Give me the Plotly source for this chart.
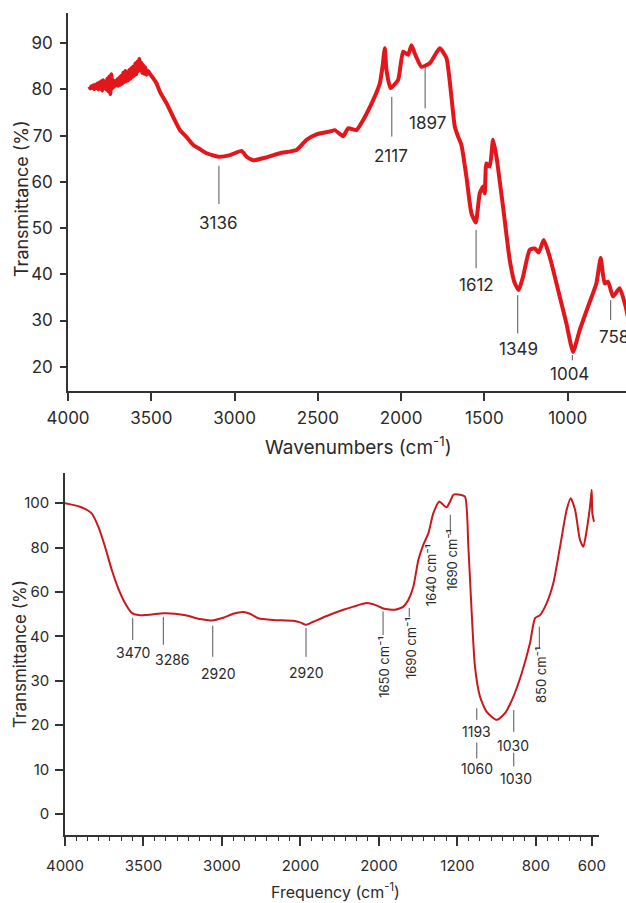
import plotly.graph_objects as go

FONT = "Inter, 'Open Sans', sans-serif"
INK = "#2a2a2a"
LEAD = "#555555"

# ---------------- top spectrum ----------------
top_wavenumber = [3872, 3866, 3860, 3854, 3848, 3842, 3836, 3830, 3824, 3818, 3812, 3806,
                  3800, 3794, 3788, 3782, 3776, 3770, 3764, 3758, 3752, 3746, 3740, 3734,
                  3728, 3722, 3716, 3710, 3704, 3698, 3692, 3686, 3680, 3674, 3668, 3662,
                  3656, 3650, 3644, 3638, 3632, 3626, 3620, 3614, 3608, 3602, 3596, 3590,
                  3584, 3578, 3572, 3566, 3560, 3554, 3548, 3542, 3536, 3528, 3518, 3505,
                  3488, 3468, 3448, 3408, 3368, 3328, 3288, 3248, 3208, 3168, 3098, 3028,
                  2958, 2928, 2888, 2808, 2728, 2628,
                  2568, 2508, 2428, 2398, 2348, 2318, 2268, 2228, 2168, 2128, 2112, 2098,
                  2088, 2064, 2018, 1988, 1958, 1938, 1918, 1878, 1828, 1768, 1728, 1698,
                  1678, 1658, 1638, 1608, 1578, 1552, 1528, 1508, 1498, 1488, 1468, 1448,
                  1428, 1388, 1348, 1318, 1294, 1268, 1228, 1198, 1174, 1144, 1108, 1048,
                  1008, 968, 928, 878, 828, 802, 778, 758, 728, 688, 652, 640]
top_transmittance = [80.6, 80.2, 80.7, 80.3, 80.9, 80.1, 81.0, 80.3, 81.3, 80.0, 81.5, 80.2,
                     81.8, 79.8, 82.0, 80.4, 81.6, 80.0, 82.3, 79.6, 82.8, 79.0, 83.3, 80.2,
                     82.0, 80.6, 81.8, 80.9, 82.2, 80.8, 82.6, 81.0, 83.0, 81.3, 83.6, 81.6,
                     84.0, 81.8, 83.2, 82.0, 84.2, 82.3, 84.6, 82.7, 85.0, 83.0, 85.6, 83.3,
                     86.0, 84.0, 86.6, 84.2, 85.8, 83.6, 85.3, 83.4, 84.8, 83.2, 84.0, 83.2,
                     82.4, 81.3, 79.5, 77.0, 74.0, 71.2, 69.7, 68.0, 67.1, 66.2, 65.45, 65.8,
                     66.7, 65.45, 64.7, 65.3, 66.2, 66.9,
                     69.1, 70.3, 70.9, 71.2, 69.9, 71.6, 71.2, 73.4, 77.7, 81.3, 84.9, 88.9,
                     84.2, 80.3, 82.1, 88.2, 87.5, 89.6, 87.8, 84.9, 85.7, 88.9, 86.8, 78.4,
                     72.0, 69.8, 68.0, 61.1, 53.2, 51.2, 57.5, 59.0, 57.5, 64.0, 63.3, 69.1,
                     65.5, 54.6, 43.1, 38.1, 36.6, 39.5, 45.3, 45.6, 44.7, 47.4, 43.8, 35.2,
                     29.4, 23.2, 27.9, 33.0, 38.0, 43.5, 38.0, 38.4, 35.2, 37.0, 33.0, 31.0]

top_labels = ["3136", "2117", "1897", "1612", "1349", "1004", "758"]
top_label_x = [3098, 2060, 1842, 1546, 1296, 992, 724]
top_label_y = [51.2, 65.5, 72.7, 37.7, 23.8, 18.4, 26.5]
top_leader_x = [3094, 2056, 1856, 1550, 1300, 972, 742]
top_leader_y0 = [55.2, 69.8, 75.9, 41.3, 27.2, 21.4, 30.1]
top_leader_y1 = [63.5, 78.4, 84.9, 49.6, 35.5, 22.5, 34.4]
top_xticks = [4000, 3500, 3000, 2500, 2000, 1500, 1000]
top_yticks = [20, 30, 40, 50, 60, 70, 80, 90]

# ---------------- bottom spectrum (axis drawn in tick-slot units) ----------------
bottom_position = [0.0, 1.34, 2.38, 2.97, 3.57, 4.17, 4.75, 5.35, 5.95, 6.54, 7.58, 8.77,
                   9.81, 10.86, 12.04, 13.09, 14.12, 15.01, 15.91, 16.50, 17.24, 18.58,
                   20.37, 21.03, 21.50, 22.15, 23.35, 24.83, 25.72, 26.91, 27.65, 28.39,
                   29.44, 30.18, 30.62, 31.07, 31.52, 31.96, 32.41, 32.85, 33.39, 33.75,
                   34.05, 34.41, 34.64, 35.24, 35.68, 35.98, 36.28, 36.57, 37.02, 37.62,
                   38.51, 39.25, 39.99, 40.74, 41.48, 41.93, 42.37, 42.97, 43.56, 44.16,
                   44.75, 45.11, 45.50, 45.94, 46.24, 46.54, 46.83, 46.98, 47.04, 47.19]
bottom_level = [70.0, 69.2, 67.7, 64.7, 60.2, 55.0, 50.8, 47.5, 45.3, 44.8, 44.9, 45.2,
                45.1, 44.7, 43.9, 43.6, 44.2, 45.1, 45.5, 45.1, 44.1, 43.7,
                43.5, 43.1, 42.6, 43.3, 44.6, 46.0, 46.7, 47.5, 47.1, 46.3,
                46.0, 46.7, 48.2, 51.2, 57.2, 60.6, 63.2, 67.7, 70.4, 69.6,
                69.1, 70.7, 71.9, 71.9, 71.5, 60.2, 45.2, 33.2, 26.4, 23.0,
                21.2, 22.7, 26.4, 31.7, 38.5, 44.1, 44.8, 47.5, 52.0, 60.2,
                68.5, 71.1, 68.5, 61.7, 60.2, 64.0, 69.2, 73.0, 67.7, 65.8]
bottom_xtick_pos = [0, 7, 14, 21, 28, 35, 42, 47]
bottom_xtick_text = ["4000", "3500", "3000", "2000", "2000", "1200", "800", "600"]
bottom_ytick_pos = [0, 10, 20, 30, 40, 50, 60, 70]
bottom_ytick_text = ["0", "10", "20", "30", "40", "60", "80", "100"]

bottom_labels = ["3470", "3286", "2920", "2920", "1193", "1060", "1030", "1030"]
bottom_label_x = [6.04, 9.55, 13.65, 21.5, 36.75, 36.73, 39.99, 40.23]
bottom_label_y = [36.3, 34.9, 31.7, 31.8, 18.5, 10.3, 15.5, 8.0]
bottom_vlabels = ["1650 cm⁻¹", "1690 cm⁻¹", "1640 cm⁻¹", "1690 cm⁻¹", "850 cm⁻¹"]
bottom_vlabel_x = [28.39, 30.87, 32.65, 34.50, 42.46]
bottom_vlabel_y = [33.2, 37.4, 53.8, 57.2, 31.3]
bottom_leader_x = [6.04, 8.77, 13.18, 21.5, 28.37, 30.71, 34.37, 42.31, 36.73, 36.73, 40.03, 40.03]
bottom_leader_y0 = [39.2, 38.1, 35.4, 35.4, 40.3, 44.4, 62.9, 37.3, 21.2, 12.5, 18.5, 10.7]
bottom_leader_y1 = [44.2, 44.4, 42.4, 41.9, 45.6, 46.4, 67.4, 42.2, 23.8, 16.1, 23.4, 13.8]

W, H = 626, 903
fig = go.Figure()

fig.add_trace(go.Scatter(x=top_wavenumber, y=top_transmittance, mode="lines",
                         line=dict(color="#e3171b", width=4, shape="spline", smoothing=0.5),
                         xaxis="x", yaxis="y", showlegend=False, hoverinfo="skip"))
fig.add_trace(go.Scatter(x=bottom_position, y=bottom_level, mode="lines",
                         line=dict(color="#c9191e", width=2, shape="spline", smoothing=0.6),
                         xaxis="x2", yaxis="y2", showlegend=False, hoverinfo="skip"))

shapes = []
annotations = []
for lx, y0, y1 in zip(top_leader_x, top_leader_y0, top_leader_y1):
    shapes.append(dict(type="line", xref="x", yref="y", x0=lx, x1=lx, y0=y0, y1=y1,
                       line=dict(color=LEAD, width=1)))
for t, lx, ly in zip(top_labels, top_label_x, top_label_y):
    annotations.append(dict(text=t, x=lx, y=ly, xref="x", yref="y", showarrow=False,
                            xanchor="center", yanchor="middle",
                            font=dict(family=FONT, size=17, color=INK)))
for lx, y0, y1 in zip(bottom_leader_x, bottom_leader_y0, bottom_leader_y1):
    shapes.append(dict(type="line", xref="x2", yref="y2", x0=lx, x1=lx, y0=y0, y1=y1,
                       line=dict(color=LEAD, width=1)))
for t, lx, ly in zip(bottom_labels, bottom_label_x, bottom_label_y):
    annotations.append(dict(text=t, x=lx, y=ly, xref="x2", yref="y2", showarrow=False,
                            xanchor="center", yanchor="middle",
                            font=dict(family=FONT, size=14, color=INK)))
for t, lx, ly in zip(bottom_vlabels, bottom_vlabel_x, bottom_vlabel_y):
    annotations.append(dict(text=t, x=lx, y=ly, xref="x2", yref="y2", showarrow=False,
                            textangle=-90, xanchor="center", yanchor="middle",
                            font=dict(family=FONT, size=13, color=INK)))

# axis titles
title_kw = dict(xref="paper", yref="paper", showarrow=False, xanchor="center", yanchor="middle")
annotations.append(dict(text="Wavenumbers (cm<sup>-1</sup>)", x=358 / W, y=1 - 446 / H,
                        font=dict(family=FONT, size=19, color=INK), **title_kw))
annotations.append(dict(text="Transmittance (%)", x=22 / W, y=1 - 199 / H, textangle=-90,
                        font=dict(family=FONT, size=18, color=INK), **title_kw))
annotations.append(dict(text="Frequency (cm<sup>-1</sup>)", x=335 / W, y=1 - 891 / H,
                        font=dict(family=FONT, size=16, color=INK), **title_kw))
annotations.append(dict(text="Transmittance (%)", x=20 / W, y=1 - 654 / H, textangle=-90,
                        font=dict(family=FONT, size=17, color=INK), **title_kw))

axis_common = dict(showgrid=False, zeroline=False, showline=True, linecolor="#333333",
                   linewidth=1.5, ticks="outside", tickcolor="#333333", tickwidth=1.5,
                   automargin=False)

fig.update_layout(
    width=W, height=H, margin=dict(l=0, r=0, t=0, b=0, autoexpand=False),
    paper_bgcolor="white", plot_bgcolor="white",
    shapes=shapes, annotations=annotations,
    xaxis=dict(domain=[68 / W, 1.0], range=[4000, 650], tickmode="array",
               tickvals=top_xticks, ticklen=8, ticklabelstandoff=3,
               tickfont=dict(family=FONT, size=17, color=INK), anchor="y", **axis_common),
    yaxis=dict(domain=[1 - 391 / H, 1 - 12.7 / H], range=[14.74, 96.62], tickmode="array",
               tickvals=top_yticks, ticklen=6, ticklabelstandoff=4,
               tickfont=dict(family=FONT, size=17, color=INK), anchor="x", **axis_common),
    xaxis2=dict(domain=[65 / W, 599.3 / W], range=[0, 47.66], tickmode="array",
                tickvals=bottom_xtick_pos, ticktext=bottom_xtick_text, ticklen=9,
                ticklabelstandoff=7,
                minor=dict(tickmode="linear", tick0=0, dtick=1, ticklen=4, ticks="outside",
                           tickcolor="#333333", tickwidth=1),
                tickfont=dict(family=FONT, size=15, color=INK), anchor="y2", **axis_common),
    yaxis2=dict(domain=[1 - 835 / H, 1 - 473 / H], range=[-4.73, 76.8], tickmode="array",
                tickvals=bottom_ytick_pos, ticktext=bottom_ytick_text, ticklen=8,
                ticklabelstandoff=3,
                tickfont=dict(family=FONT, size=15, color=INK), anchor="x2", **axis_common),
)

fig.write_html("out.html")
